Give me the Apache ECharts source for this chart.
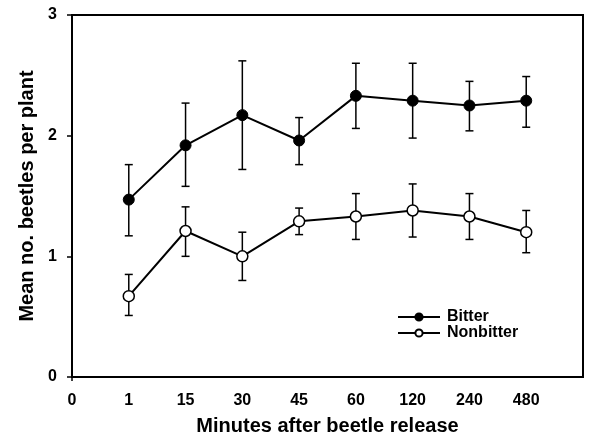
<!DOCTYPE html>
<html>
<head>
<meta charset="utf-8">
<script src="https://cdn.jsdelivr.net/npm/echarts@6/dist/echarts.min.js"></script>
<style>
html,body{margin:0;padding:0;background:#fff;}
#chart{width:589px;height:436px;}
</style>
</head>
<body>
<div id="chart"></div>
<script>
const categories = ['0','1','15','30','45','60','120','240','480',''];
const bitterMean = [null,1.47,1.92,2.17,1.96,2.33,2.29,2.25,2.29,null];
const bitterLow  = [null,1.17,1.58,1.72,1.76,2.06,1.98,2.04,2.07,null];
const bitterHigh = [null,1.76,2.27,2.62,2.15,2.60,2.60,2.45,2.49,null];
const nonMean = [null,0.67,1.21,1.00,1.29,1.33,1.38,1.33,1.20,null];
const nonLow  = [null,0.51,1.00,0.80,1.18,1.14,1.16,1.14,1.03,null];
const nonHigh = [null,0.85,1.41,1.20,1.40,1.52,1.60,1.52,1.38,null];
const yTicks = [0,1,2,3];

const FONT = '"Liberation Sans", Arial, sans-serif';

function errData(mean, lo, hi){
  const out = [];
  for (let i = 0; i < categories.length; i++) {
    if (mean[i] != null) out.push([i, lo[i], hi[i]]);
  }
  return out;
}
function renderErr(params, api){
  const i = api.value(0);
  const top = api.coord([i, api.value(2)]);
  const bot = api.coord([i, api.value(1)]);
  const cap = 4;
  const style = {stroke:'#000', lineWidth:1.5};
  return {
    type:'group',
    children:[
      {type:'line', shape:{x1:top[0],y1:top[1],x2:bot[0],y2:bot[1]}, style},
      {type:'line', shape:{x1:top[0]-cap,y1:top[1],x2:top[0]+cap,y2:top[1]}, style},
      {type:'line', shape:{x1:bot[0]-cap,y1:bot[1],x2:bot[0]+cap,y2:bot[1]}, style}
    ]
  };
}

const chart = echarts.init(document.getElementById('chart'), null, {renderer:'canvas'});
chart.setOption({
  animation:false,
  backgroundColor:'#fff',
  grid:{left:72,right:6,top:15,bottom:59,outerBoundsMode:'none',containLabel:false,show:true,borderColor:'#000',borderWidth:2,backgroundColor:'transparent'},
  legend:{
    orient:'vertical', left:397, top:309, padding:0, itemWidth:42, itemHeight:9, itemGap:0,
    data:['Bitter','Nonbitter'],
    textStyle:{fontFamily:FONT,fontWeight:'bold',fontSize:16,lineHeight:15,color:'#000',padding:[0,0,0,2]}
  },
  xAxis:{
    type:'category', data:categories, boundaryGap:false,
    name:'Minutes after beetle release', nameLocation:'middle', nameGap:39,
    nameTextStyle:{fontFamily:FONT,fontWeight:'bold',fontSize:20,color:'#000'},
    axisLine:{show:true,lineStyle:{color:'#000',width:2}},
    axisTick:{show:true,length:4,interval:function(idx){return idx===0;},lineStyle:{color:'#000',width:1.5}},
    axisLabel:{interval:0,margin:16,fontFamily:FONT,fontWeight:'bold',fontSize:16,color:'#000'},
    splitLine:{show:false}
  },
  yAxis:{
    type:'value', min:yTicks[0], max:yTicks[yTicks.length-1], interval:1,
    name:'Mean no. beetles per plant', nameLocation:'middle', nameGap:33,
    nameTextStyle:{fontFamily:FONT,fontWeight:'bold',fontSize:20,color:'#000'},
    axisLine:{show:true,lineStyle:{color:'#000',width:2}},
    axisTick:{show:true,length:5,lineStyle:{color:'#000',width:1.5}},
    axisLabel:{margin:15,fontFamily:FONT,fontWeight:'bold',fontSize:16,color:'#000'},
    splitLine:{show:false}
  },
  series:[
    {type:'custom', name:'errB', renderItem:renderErr, data:errData(bitterMean,bitterLow,bitterHigh), z:1, silent:true},
    {type:'custom', name:'errN', renderItem:renderErr, data:errData(nonMean,nonLow,nonHigh), z:1, silent:true},
    {type:'line', name:'Bitter', data:bitterMean, z:3, symbol:'circle', symbolSize:11, showSymbol:true,
      lineStyle:{color:'#000',width:2}, itemStyle:{color:'#000',borderColor:'#000',borderWidth:1}},
    {type:'line', name:'Nonbitter', data:nonMean, z:3, symbol:'circle', symbolSize:11, showSymbol:true,
      lineStyle:{color:'#000',width:2}, itemStyle:{color:'#fff',borderColor:'#000',borderWidth:1.5}}
  ]
});
</script>
</body>
</html>
